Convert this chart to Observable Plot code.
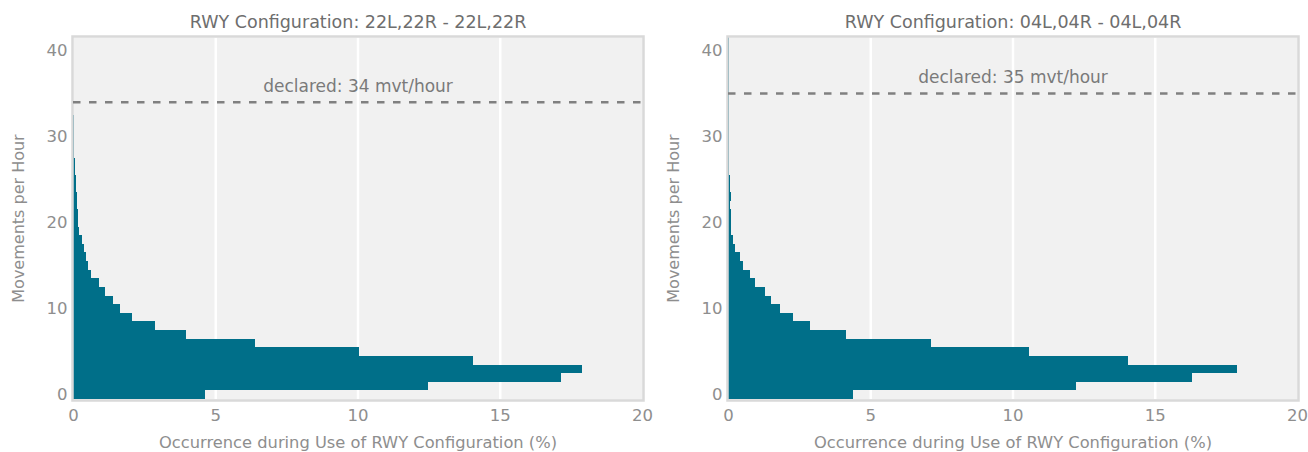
<!DOCTYPE html>
<html>
<head>
<meta charset="utf-8">
<script src="https://cdn.jsdelivr.net/npm/d3@7"></script>
<script src="https://cdn.jsdelivr.net/npm/@observablehq/plot@0.6"></script>
<style>
  html, body { margin: 0; padding: 0; background: #ffffff; }
  #wrap { display: flex; flex-direction: row; width: 1308px; height: 452px; }
  svg { display: block; }
</style>
</head>
<body>
<div id="wrap"></div>
<script>
// Share of hours (%) at each movement count, one array per runway configuration.
const configTitles = [
  "RWY Configuration: 22L,22R - 22L,22R",
  "RWY Configuration: 04L,04R - 04L,04R"
];
const declaredCapacity = [34, 35];

// index = movements per hour (0, 1, 2, ...)
const share22 = [4.64, 12.47, 17.14, 17.88, 14.05, 10.05, 6.40, 3.97, 2.89, 2.09,
  1.66, 1.41, 1.13, 0.90, 0.65, 0.54, 0.44, 0.37, 0.30, 0.22,
  0.19, 0.17, 0.13, 0.13, 0.10, 0.10, 0.08, 0.06, 0.04, 0.03,
  0.03, 0.02, 0.02];
const share04 = [4.39, 12.22, 16.30, 17.88, 14.05, 10.58, 7.14, 4.14, 2.89, 2.29,
  1.84, 1.52, 1.31, 0.96, 0.77, 0.54, 0.42, 0.26, 0.19, 0.11,
  0.10, 0.12, 0.07, 0.10, 0.07, 0.07, 0.03, 0.03, 0.03, 0.03,
  0.02, 0.02, 0.02, 0.02, 0.02, 0.02, 0.02, 0.02, 0.02, 0.02,
  0.02, 0.02];

const xTicks = [0, 5, 10, 15, 20];
const yTicks = [0, 10, 20, 30, 40];
const xLabel = "Occurrence during Use of RWY Configuration (%)";
const yLabel = "Movements per Hour";

const FONT = "DejaVu Sans, sans-serif";
const BAR = "#006f89";

function panel(title, shares, declared, marginLeft, marginRight) {
  const rows = shares.map((v, k) => ({mvt: k, pct: v}));
  return Plot.plot({
    width: 654,
    height: 452,
    marginTop: 37,
    marginBottom: 53,
    marginLeft,
    marginRight,
    style: {fontFamily: FONT, fontSize: "16.5px", color: "#8e8e8e", background: "transparent"},
    x: {domain: [0, 20], ticks: xTicks, tickSize: 0, tickPadding: 10, label: null},
    y: {domain: [-0.5, 41.5], ticks: yTicks, tickSize: 0, tickPadding: 6, label: null},
    marks: [
      Plot.frame({fill: "#f1f1f1", stroke: null}),
      Plot.ruleX([5, 10, 15], {stroke: "#ffffff", strokeWidth: 2.5}),
      Plot.rectX(rows, {
        x1: 0, x2: "pct",
        y1: d => d.mvt - 0.5, y2: d => d.mvt + 0.5,
        fill: BAR, inset: 0, shapeRendering: "crispEdges"
      }),
      Plot.frame({stroke: "#d9d9d9", strokeWidth: 2.5, fill: null, inset: -1}),
      Plot.ruleY([declared], {stroke: "#808080", strokeWidth: 2.5, strokeDasharray: "7.5,8.5"}),
      Plot.text([`declared: ${declared} mvt/hour`], {
        x: 10, y: declared, dy: -16, fill: "#7a7a7a", fontSize: 17, fontFamily: FONT
      }),
      Plot.text([title], {
        frameAnchor: "top", dy: -22, fill: "#6e6e6e", fontSize: 17.5, fontFamily: FONT
      }),
      Plot.text([xLabel], {
        frameAnchor: "bottom", dy: 48, fill: "#8e8e8e", fontSize: 16.3, fontFamily: FONT
      }),
      Plot.text([yLabel], {
        frameAnchor: "left", dx: -55, rotate: -90, textAnchor: "middle",
        fill: "#8e8e8e", fontSize: 16, fontFamily: FONT
      })
    ]
  });
}

const wrap = document.getElementById("wrap");
wrap.appendChild(panel(configTitles[0], share22, declaredCapacity[0], 73, 12));
wrap.appendChild(panel(configTitles[1], share04, declaredCapacity[1], 74, 11));
</script>
</body>
</html>
